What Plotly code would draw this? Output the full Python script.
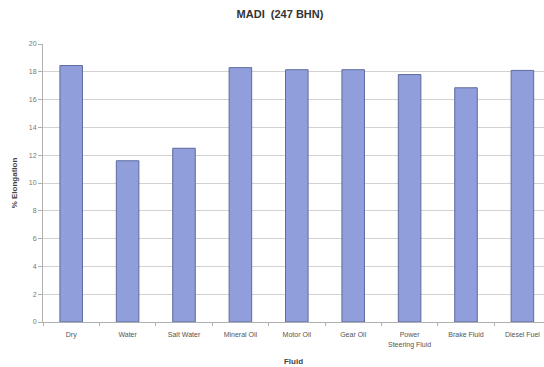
import plotly.graph_objects as go

categories = ["Dry", "Water", "Salt Water", "Mineral Oil", "Motor Oil", "Gear Oil",
              "Power<br>Steering Fluid", "Brake Fluid", "Diesel Fuel"]
elongation = [18.45, 11.6, 12.5, 18.3, 18.15, 18.15, 17.8, 16.85, 18.1]
y_ticks = [0, 2, 4, 6, 8, 10, 12, 14, 16, 18, 20]

fig = go.Figure()
fig.add_trace(go.Bar(
    x=list(range(len(categories))),
    y=elongation,
    width=0.4,
    marker=dict(color="#909fdc", line=dict(color="#5d6a9c", width=1)),
    hoverinfo="skip",
))

fig.update_layout(
    width=544, height=367,
    margin=dict(l=43, r=0, t=44, b=45),
    paper_bgcolor="white", plot_bgcolor="white",
    font=dict(family="Liberation Sans, Arial, sans-serif", color="#555"),
    showlegend=False,
    title=dict(text="<b>MADI  (247 BHN)</b>", x=280/544, xanchor="center",
               y=1 - 14/367, yanchor="middle",
               font=dict(size=11, color="#333")),
)
fig.update_xaxes(
    tickvals=list(range(len(categories))), ticktext=categories,
    range=[-0.5, 8.383],
    showline=True, linecolor="#b0b0b0", linewidth=1,
    ticks="", tickfont=dict(size=7, color="#555"),
    ticklabelstandoff=6,
    minor=dict(ticks="outside", tick0=-0.5, dtick=1, ticklen=3, tickcolor="#b0b0b0", showgrid=False),
    showgrid=False, zeroline=False,
    title=dict(text="<b>Fluid</b>", font=dict(size=8, color="#444"), standoff=10),
)
fig.update_yaxes(
    range=[0, 20], tickvals=y_ticks,
    showline=True, linecolor="#b0b0b0", linewidth=1,
    ticks="outside", ticklen=4, tickcolor="#b0b0b0",
    tickfont=dict(size=7, color="#777"),
    showgrid=True, gridcolor="#d2d2d2", gridwidth=1, zeroline=False,
    title=dict(text="<b>% Elongation</b>", font=dict(size=8, color="#444"), standoff=10),
)

fig.write_html("out.html")
